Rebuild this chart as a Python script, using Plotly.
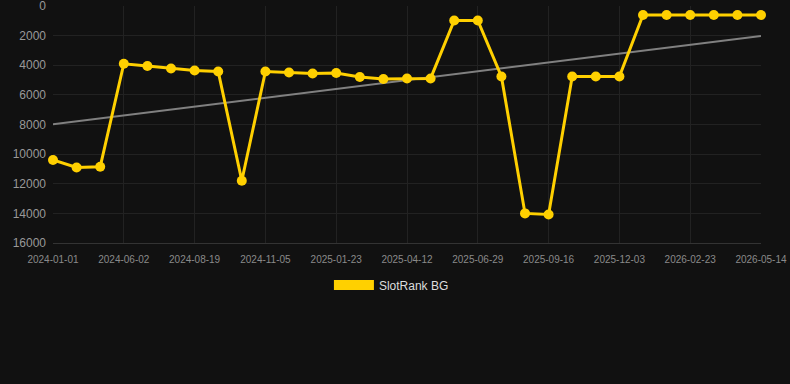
import numpy as np
import plotly.graph_objects as go

dates = [
    "2024-01-01", "2024-02-21", "2024-04-12", "2024-06-02", "2024-06-28", "2024-07-24",
    "2024-08-19", "2024-09-14", "2024-10-10", "2024-11-05", "2024-12-01", "2024-12-27",
    "2025-01-23", "2025-02-18", "2025-03-17", "2025-04-12", "2025-05-08", "2025-06-03",
    "2025-06-29", "2025-07-25", "2025-08-21", "2025-09-16", "2025-10-12", "2025-11-07",
    "2025-12-03", "2025-12-30", "2026-01-27", "2026-02-23", "2026-03-21", "2026-04-17",
    "2026-05-14",
]
ranks = [
    10400, 10900, 10850, 3900, 4050, 4220,
    4350, 4420, 11800, 4420, 4490, 4560,
    4520, 4790, 4930, 4890, 4890, 980,
    980, 4760, 14000, 14080, 4760, 4760,
    4760, 610, 610, 610, 610, 610,
    610,
]
tick_labels = dates[::3]
y_ticks = [0, 2000, 4000, 6000, 8000, 10000, 12000, 14000, 16000]
series_name = "SlotRank BG"

idx = np.arange(len(ranks))
slope, intercept = np.polyfit(idx, ranks, 1)
trend = [slope * i + intercept for i in idx]

YELLOW = "#FFD000"

fig = go.Figure()
fig.add_trace(go.Scatter(
    x=dates, y=trend, mode="lines",
    line=dict(color="#808080", width=2),
    showlegend=False, hoverinfo="skip",
))
fig.add_trace(go.Scatter(
    x=dates, y=ranks, mode="lines+markers",
    line=dict(color=YELLOW, width=3),
    marker=dict(color=YELLOW, size=10),
    showlegend=False, cliponaxis=False,
))
fig.add_trace(go.Scatter(
    x=[None], y=[None], mode="lines", name=series_name,
    line=dict(color=YELLOW, width=12),
))

fig.update_layout(
    width=790, height=384,
    paper_bgcolor="#111111", plot_bgcolor="#111111",
    margin=dict(l=53, r=29, t=6, b=141),
    font=dict(family="Liberation Sans, Arial, sans-serif", color="#999999"),
    legend=dict(
        orientation="h", x=0.478, xanchor="center", y=-0.177, yanchor="middle",
        font=dict(size=12, color="#dddddd"), bgcolor="rgba(0,0,0,0)",
        itemwidth=40,
    ),
    xaxis=dict(
        type="category", categoryorder="array", categoryarray=dates,
        range=[0, len(dates) - 1],
        tickvals=tick_labels, ticktext=tick_labels,
        tickfont=dict(size=10, color="#8a8a8a"),
        showgrid=True, gridcolor="#222222", gridwidth=1,
        showline=True, linecolor="#333333", linewidth=1,
        ticks="", zeroline=False, ticklabelstandoff=7,
        automargin=False,
    ),
    yaxis=dict(
        range=[16000, 0], tickmode="array",
        tickvals=y_ticks, ticktext=[str(v) for v in y_ticks],
        tickfont=dict(size=12, color="#999999"),
        showgrid=True, gridcolor="#222222", gridwidth=1,
        zeroline=False, ticks="", ticklabelstandoff=6,
        ticklabeloverflow="allow", automargin=False,
    ),
)

fig.write_html("out.html")
